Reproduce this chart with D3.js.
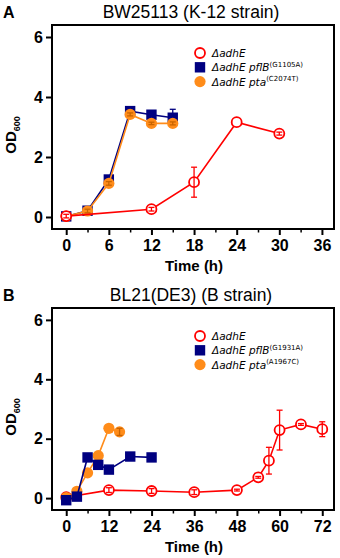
<!DOCTYPE html>
<html>
<head>
<meta charset="utf-8">
<script src="https://cdn.jsdelivr.net/npm/d3@7"></script>
<style>
  body { margin: 0; background: #fff; }
  svg { display: block; }
</style>
</head>
<body>
<svg id="chart" width="340" height="558"></svg>
<script>
// panel A: BW25113
const aTicks = [0, 6, 12, 18, 24, 30, 36]
const aAdhE_t = [0, 12, 18, 24, 30]
const aAdhE_od = [0.03, 0.26, 1.16, 3.16, 2.78]
const aAdhE_err = [0.06, 0.06, 0.5, 0, 0.05]
const aPflB_t = [0, 3, 6, 9, 12, 15]
const aPflB_od = [0.02, 0.21, 1.25, 3.53, 3.41, 3.31]
const aPflB_err = [0.04, 0.06, 0.06, 0.05, 0.04, 0.28]
const aPta_t = [0, 3, 6, 9, 12, 15]
const aPta_od = [0.02, 0.2, 1.12, 3.42, 3.12, 3.12]
const aPta_err = [0.03, 0.06, 0.06, 0.05, 0.04, 0.05]

// panel B: BL21(DE3)
const bTicks = [0, 12, 24, 36, 48, 60, 72]
const bAdhE_t = [0, 12, 24, 36, 48, 54, 57, 60, 66, 72]
const bAdhE_od = [0.03, 0.27, 0.24, 0.2, 0.27, 0.7, 1.26, 2.29, 2.48, 2.32]
const bAdhE_err = [0.05, 0.08, 0.08, 0.08, 0.03, 0.03, 0.45, 0.67, 0.03, 0.25]
const bPflB_t = [0, 3, 6, 9, 12, 18, 24]
const bPflB_od = [-0.07, 0.05, 1.37, 1.12, 0.96, 1.4, 1.37]
const bPflB_err = [0, 0, 0, 0, 0, 0, 0]
const bPta_t = [0, 3, 6, 9, 12, 15]
const bPta_od = [0.02, 0.23, 0.85, 1.43, 2.35, 2.23]
const bPta_err = [0, 0, 0, 0, 0, 0.12]

const yTicks = [0, 2, 4, 6]
const legendMain = ["ΔadhE", "ΔadhE pflB", "ΔadhE pta"]
const legendSupA = ["", "(G1105A)", "(C2074T)"]
const legendSupB = ["", "(G1931A)", "(A1967C)"]

const RED = "#ff0000", NAVY = "#000080", ORANGE = "#ff8c1a"

function zip(t, od, err) {
    return t.map((d, i) => ({t: d, od: od[i], err: err[i]}))
}

const panels = [
    {
        letter: "A", title: "BW25113 (K-12 strain)", top: 25, bottom: 229,
        xDomain: [-2, 37.7], ticks: aTicks, sup: legendSupA,
        series: [
            {kind: "open", color: RED, data: zip(aAdhE_t, aAdhE_od, aAdhE_err)},
            {kind: "square", color: NAVY, data: zip(aPflB_t, aPflB_od, aPflB_err)},
            {kind: "dot", color: ORANGE, data: zip(aPta_t, aPta_od, aPta_err)}
        ],
        order: [1, 2, 0]
    },
    {
        letter: "B", title: "BL21(DE3) (B strain)", top: 308, bottom: 510,
        xDomain: [-4, 75.3], ticks: bTicks, sup: legendSupB,
        series: [
            {kind: "open", color: RED, data: zip(bAdhE_t, bAdhE_od, bAdhE_err)},
            {kind: "square", color: NAVY, data: zip(bPflB_t, bPflB_od, bPflB_err)},
            {kind: "dot", color: ORANGE, data: zip(bPta_t, bPta_od, bPta_err)}
        ],
        order: [0, 2, 1]
    }
]

const svg = d3.select("#chart")
const left = 52, right = 334

function drawMarker(g, kind, color, x, y) {
    if (kind === "open") {
        g.append("circle").attr("cx", x).attr("cy", y).attr("r", 5)
            .attr("fill", "#fff").attr("stroke", color).attr("stroke-width", 1.8)
    } else if (kind === "square") {
        g.append("rect").attr("x", x - 5.2).attr("y", y - 5.2)
            .attr("width", 10.4).attr("height", 10.4).attr("fill", color)
    } else {
        g.append("circle").attr("cx", x).attr("cy", y).attr("r", 5.6)
            .attr("fill", color)
    }
}

panels.forEach(p => {
    const x = d3.scaleLinear().domain(p.xDomain).range([left, right])
    const y = d3.scaleLinear().domain([-0.4, 6.4]).range([p.bottom, p.top])
    const g = svg.append("g")

    // letter + title
    g.append("text").attr("x", 3).attr("y", p.top - 7)
        .attr("font-family", "Liberation Sans, Arial, sans-serif")
        .attr("font-weight", "bold").attr("font-size", 16).text(p.letter)
    g.append("text").attr("x", 191).attr("y", p.top - 7)
        .attr("text-anchor", "middle")
        .attr("font-family", "Liberation Sans, Arial, sans-serif")
        .attr("font-size", 17.5).text(p.title)

    // x axis
    const minor = []
    for (let i = 0; i < p.ticks.length - 1; i++) minor.push((p.ticks[i] + p.ticks[i + 1]) / 2)
    g.append("g").attr("transform", `translate(0,${p.bottom})`)
        .call(d3.axisBottom(x).tickValues(minor).tickSize(3.5).tickFormat(""))
        .call(a => a.select(".domain").remove())
        .selectAll("line").attr("stroke-width", 1.5)
    const xa = g.append("g").attr("transform", `translate(0,${p.bottom})`)
        .call(d3.axisBottom(x).tickValues(p.ticks).tickSize(6).tickPadding(5))
    xa.select(".domain").remove()
    xa.selectAll("line").attr("stroke-width", 2)
    xa.selectAll("text").attr("font-family", "Liberation Sans, Arial, sans-serif")
        .attr("font-weight", "bold").attr("font-size", 16).attr("fill", "#000")

    // y axis
    const ya = g.append("g").attr("transform", `translate(${left},0)`)
        .call(d3.axisLeft(y).tickValues(yTicks).tickFormat(d3.format("d")).tickSize(6).tickPadding(3))
    ya.select(".domain").remove()
    ya.selectAll("line").attr("stroke-width", 2)
    ya.selectAll("text").attr("font-family", "Liberation Sans, Arial, sans-serif")
        .attr("font-weight", "bold").attr("font-size", 16).attr("fill", "#000")

    // frame
    g.append("rect").attr("x", left).attr("y", p.top)
        .attr("width", right - left).attr("height", p.bottom - p.top)
        .attr("fill", "none").attr("stroke", "#000").attr("stroke-width", 2)

    // axis titles
    g.append("text").attr("x", 194).attr("y", p.bottom + 42)
        .attr("text-anchor", "middle")
        .attr("font-family", "Liberation Sans, Arial, sans-serif")
        .attr("font-weight", "bold").attr("font-size", 15).text("Time (h)")
    const yl = g.append("text")
        .attr("transform", `translate(16,${(p.top + p.bottom) / 2 + 8}) rotate(-90)`)
        .attr("text-anchor", "middle")
        .attr("font-family", "Liberation Sans, Arial, sans-serif")
        .attr("font-weight", "bold").attr("font-size", 15)
    yl.append("tspan").text("OD")
    yl.append("tspan").attr("font-size", 9).attr("dy", 4).text("600")

    // series
    const line = d3.line().x(d => x(d.t)).y(d => y(d.od))
    p.order.forEach(i => {
        const s = p.series[i]
        const sg = g.append("g")
        sg.append("path").datum(s.data).attr("d", line)
            .attr("fill", "none").attr("stroke", s.color).attr("stroke-width", 1.6)
        s.data.forEach(d => drawMarker(sg, s.kind, s.color, x(d.t), y(d.od)))
        const eb = s.kind === "open" ? s.color : (s.kind === "square" ? NAVY : "#c86400")
        s.data.filter(d => d.err > 0).forEach(d => {
            const cx = x(d.t), y1 = y(d.od + d.err), y2 = y(d.od - d.err)
            sg.append("line").attr("x1", cx).attr("x2", cx).attr("y1", y1).attr("y2", y2)
                .attr("stroke", eb).attr("stroke-width", 1.3)
            ;[y1, y2].forEach(yy => sg.append("line")
                .attr("x1", cx - 3).attr("x2", cx + 3).attr("y1", yy).attr("y2", yy)
                .attr("stroke", eb).attr("stroke-width", 1.3))
        })
    })

    // legend
    const lg = g.append("g")
    p.series.forEach((s, i) => {
        const ly = p.top + 28 + i * 14.3
        drawMarker(lg, s.kind, s.color, 200, ly)
        const t = lg.append("text").attr("x", 212).attr("y", ly + 4)
            .attr("font-family", "DejaVu Sans, Verdana, sans-serif")
            .attr("font-size", 10.5)
        t.append("tspan").attr("font-style", "italic").text(legendMain[i])
        if (p.sup[i]) t.append("tspan").attr("font-size", 7).attr("dy", -4.5).text(p.sup[i])
    })
})
</script>
</body>
</html>
